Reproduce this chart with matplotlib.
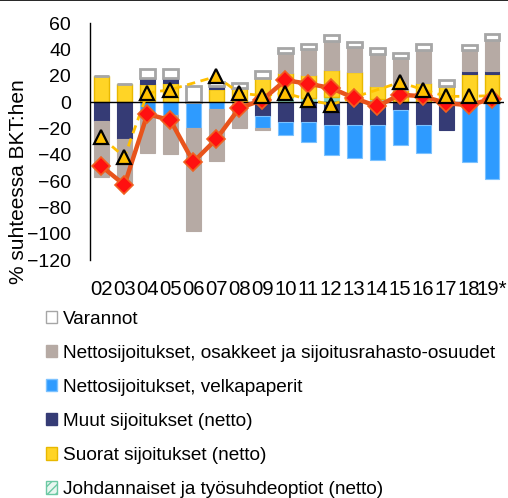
import matplotlib
matplotlib.use("Agg")
import matplotlib.pyplot as plt
import numpy as np
from matplotlib.patches import Patch
from matplotlib.lines import Line2D

plt.rcParams['font.family'] = ['Liberation Sans', 'DejaVu Sans']

years = ['02', '03', '04', '05', '06', '07', '08', '09', '10', '11', '12',
         '13', '14', '15', '16', '17', '18', '19*']

johdannaiset = [0, 0, 0, 0, 0, 0, 0, 0, 3.8, 3.0, 3.5, 0, 2.5, 0, 0, 0, 0, 0]
suorat = [19.5, 13.9, 13.9, 14.4, 0, 9.8, 10.6, 18.2, 18.2, 17.8, 21.0,
          22.5, 9.6, 9.4, 14.4, 12.2, 21.3, 21.3]
muut = [-14.2, -28.1, 4.3, 3.8, 0, 2.6, 0, -10.9, -15.2, -15.2, -17.7,
        -17.7, -17.2, -5.8, -17.7, -21.0, 2.0, 2.0]
velkapaperit = [0, 0, -9.6, -10.0, -19.7, -5.0, 0, -8.9, -10.1, -15.2, -22.5,
                -25.0, -27.0, -26.6, -21.0, 0, -45.6, -58.2]
osakkeet = [-42.8, -34.7, -29.1, -29.3, -78.5, -40.0, -19.7, -1.2, 15.2, 19.5,
            22.0, 19.2, 24.6, 24.0, 25.3, 0, 16.5, 24.0]
varannot = [0, 0, 7.0, 6.5, 11.9, 2.5, 4.0, 5.0, 3.8, 4.0, 4.6, 3.6, 4.0,
            3.8, 4.6, 4.5, 3.8, 4.3]
line_red = [-48.8, -63.0, -9.1, -13.9, -45.6, -28.1, -4.6, 1.5, 16.5, 13.9,
            10.6, 3.0, -3.3, 5.6, 4.3, -0.8, -2.5, 2.5]
line_tri = [-26.8, -41.8, 6.8, 9.4, np.nan, 19.4, 6.8, 4.8, 6.8, 1.8, -2.0,
            np.nan, np.nan, 14.9, 9.4, 4.3, 4.3, 4.8]

names = ['Johdannaiset ja työsuhdeoptiot (netto)', 'Suorat sijoitukset (netto)',
         'Muut sijoitukset (netto)', 'Nettosijoitukset, velkapaperit',
         'Nettosijoitukset, osakkeet ja sijoitusrahasto-osuudet', 'Varannot']
series = [johdannaiset, suorat, muut, velkapaperit, osakkeet, varannot]
faces = ['#8FD9BC', '#FFD426', '#353B75', '#2E9BFF', '#B6AAA4', '#FFFFFF']
edges = ['#8FD9BC', '#E8B800', '#353B75', '#7CC2FF', '#B6AAA4', '#A6A6A6']
lws = [0.8, 1.0, 0.8, 0.8, 0.8, 2.0]

fig = plt.figure(figsize=(5.08, 4.98), dpi=100)
ax = fig.add_axes([90 / 508, 1 - 260 / 498, 413.5 / 508, 237 / 498])

x = np.arange(len(years))
pos = np.zeros(len(years))
neg = np.zeros(len(years))
w = 0.65
for vals, fc, ec, lw in zip(series, faces, edges, lws):
    v = np.array(vals, dtype=float)
    bottoms = np.where(v >= 0, pos, neg)
    ax.bar(x, v, w, bottom=bottoms, color=fc, edgecolor=ec, linewidth=lw,
           zorder=2)
    pos = pos + np.where(v > 0, v, 0)
    neg = neg + np.where(v < 0, v, 0)

ax.axhline(0, color='black', linewidth=1.0, zorder=3)

tri = np.array(line_tri)
m = ~np.isnan(tri)
ax.plot(x[m], tri[m], color='#FFC000', linewidth=2.0, linestyle=(0, (3, 2)),
        zorder=4)
ax.plot(x, line_red, color='#E8541C', linewidth=3.2, marker='D',
        markersize=9, markerfacecolor='#FF1010', markeredgecolor='#F06020',
        markeredgewidth=1.2, zorder=5)
ax.plot(x[m], tri[m], linestyle='none', marker='^', markersize=10,
        markerfacecolor='#FFC000', markeredgecolor='black',
        markeredgewidth=1.6, zorder=6)

ax.set_xlim(-0.5, len(years) - 0.5)
ax.set_ylim(-120, 60)
ax.set_yticks(np.arange(-120, 61, 20))
ax.set_xticks(x)
ax.set_xticklabels(years)
ax.tick_params(axis='y', length=0, pad=13.5, labelsize=14)
ax.tick_params(axis='x', length=0, pad=14.5, labelsize=14.7)
for s in ['top', 'right', 'bottom']:
    ax.spines[s].set_visible(False)
ax.spines['left'].set_linewidth(1.0)

fig.text(19 / 508, 1 - 182 / 498, '% suhteessa BKT:hen', rotation=90,
         ha='center', va='center', fontsize=15)

handles = []
for i, (fc, ec) in enumerate(zip(faces[::-1], edges[::-1])):
    if i == len(faces) - 1:
        handles.append(Patch(facecolor='#E8F7F0', edgecolor='#6CC9A4',
                             hatch='////', linewidth=1.0))
    else:
        handles.append(Patch(facecolor=fc, edgecolor=ec, linewidth=1.0))
fig.legend(handles, names[::-1], loc='upper left',
           bbox_to_anchor=(38 / 508, 1 - 303 / 498), frameon=False,
           fontsize=13.7, handlelength=0.62, handleheight=0.62,
           handletextpad=0.3, labelspacing=0.9, borderaxespad=0)

fig.add_artist(Line2D([0, 1], [0.999, 0.999], color='black', linewidth=1.2,
                      transform=fig.transFigure))

fig.savefig('out.png', dpi=100)
